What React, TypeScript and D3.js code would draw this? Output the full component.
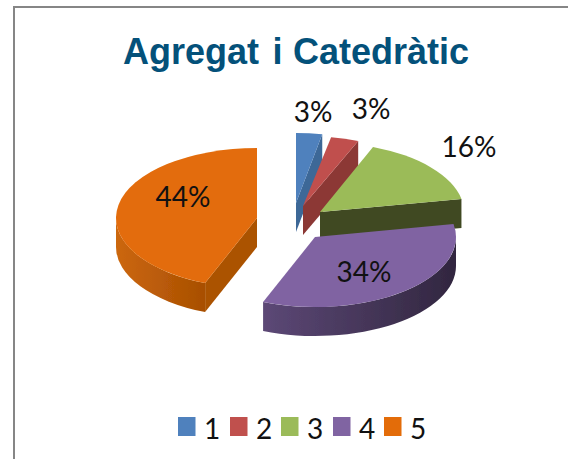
import React from "react";
import * as d3 from "d3";

const categories = ["1", "2", "3", "4", "5"];
const values = [3, 3, 16, 34, 44];
const labels = ["3%", "3%", "16%", "34%", "44%"];
const topColors = ["#4F81BD", "#C0504D", "#9BBB59", "#8064A2", "#E36C09"];
const cutColors = ["#3D6797", "#8C3836", "#404A22", "#31263F", "#AB5203"];
const wallLeft = ["#3D6797", "#8C3836", "#404A22", "#5C4876", "#CC670C"];
const wallRight = ["#3D6797", "#8C3836", "#404A22", "#31263F", "#A84F03"];

const W = 568, H = 459;
const RY = 70, DEPTH = 29;
const radiusX = [140, 150, 144, 141, 141];
const apex: [number, number][] = [[296, 203], [303, 206], [320, 212], [315, 237], [257, 218]];
const labelPos: [number, number][] = [[313, 122], [371, 119], [469, 157], [364, 282], [183, 207]];
const legendX = [178, 230, 281, 333, 384];
const paintOrder = [0, 1, 2, 4, 3];

const pie = d3.pie<number>().sort(null);
const arcs = pie(values);

function pt(i: number, a: number, dz = 0): [number, number] {
  return [apex[i][0] + radiusX[i] * Math.sin(a), apex[i][1] - RY * Math.cos(a) + dz];
}
function topPath(i: number, a0: number, a1: number) {
  const s = pt(i, a0), e = pt(i, a1), c = apex[i];
  const large = a1 - a0 > Math.PI ? 1 : 0;
  return `M${c[0]},${c[1]}L${s[0]},${s[1]}A${radiusX[i]},${RY} 0 ${large} 1 ${e[0]},${e[1]}Z`;
}
function cutPath(i: number, a: number) {
  const e = pt(i, a), c = apex[i];
  return `M${c[0]},${c[1]}L${e[0]},${e[1]}L${e[0]},${e[1] + DEPTH}L${c[0]},${c[1] + DEPTH}Z`;
}
function wallPath(i: number, a0: number, a1: number) {
  const lo = Math.max(a0, Math.PI / 2), hi = Math.min(a1, (3 * Math.PI) / 2);
  if (hi <= lo) return null;
  const r = radiusX[i];
  const s = pt(i, lo), e = pt(i, hi), eb = pt(i, hi, DEPTH), sb = pt(i, lo, DEPTH);
  return `M${s[0]},${s[1]}A${r},${RY} 0 0 1 ${e[0]},${e[1]}L${eb[0]},${eb[1]}A${r},${RY} 0 0 0 ${sb[0]},${sb[1]}Z`;
}

export default function App() {
  return (
    <svg width={W} height={H} style={{ position: "fixed", left: 0, top: 0, background: "#fff" }}>
      <defs>
        <filter id="soft" x="-5%" y="-5%" width="110%" height="110%">
          <feGaussianBlur stdDeviation="0.5" />
        </filter>
        {[3, 4].map((i) => (
          <linearGradient key={i} id={`wall${i}`} gradientUnits="userSpaceOnUse"
            x1={i === 3 ? 263 : 116} x2={i === 3 ? 457 : 205} y1={0} y2={0}>
            <stop offset="0" stopColor={wallLeft[i]} />
            <stop offset="1" stopColor={wallRight[i]} />
          </linearGradient>
        ))}
      </defs>
      <path d={`M14,${H}V7H${W}`} fill="none" stroke="#868686" strokeWidth={2} />
      <text y={64} fontFamily="'Liberation Sans', Arial, sans-serif"
        fontWeight={700} fontSize={36} fill="#04517A">
        <tspan x={123}>{"Agregat "}</tspan>
        <tspan x={272.5}>{"i "}</tspan>
        <tspan x={293}>Catedràtic</tspan>
      </text>
      <g filter="url(#soft)">
        {paintOrder.map((i) => {
          const { startAngle: a0, endAngle: a1 } = arcs[i];
          const wall = wallPath(i, a0, a1);
          return (
            <g key={i}>
              {i < 3 && <path d={cutPath(i, a1)} fill={cutColors[i]} />}
              {i === 4 && <path d={cutPath(i, a0)} fill={cutColors[i]} />}
              {wall && <path d={wall} fill={i >= 3 ? `url(#wall${i})` : wallLeft[i]} />}
              <path d={topPath(i, a0, a1)} fill={topColors[i]} />
            </g>
          );
        })}
      </g>
      {labels.map((l, i) => (
        <text key={i} x={labelPos[i][0]} y={labelPos[i][1]} textAnchor="middle"
          fontFamily="Lato, sans-serif" fontSize={28} fill="#111">{l}</text>
      ))}
      {categories.map((c, i) => (
        <g key={c}>
          <rect x={legendX[i]} y={417} width={17.5} height={19} fill={topColors[i]} />
          <text x={legendX[i] + 26} y={439} fontFamily="Lato, sans-serif" fontSize={28} fill="#111">{c}</text>
        </g>
      ))}
    </svg>
  );
}
